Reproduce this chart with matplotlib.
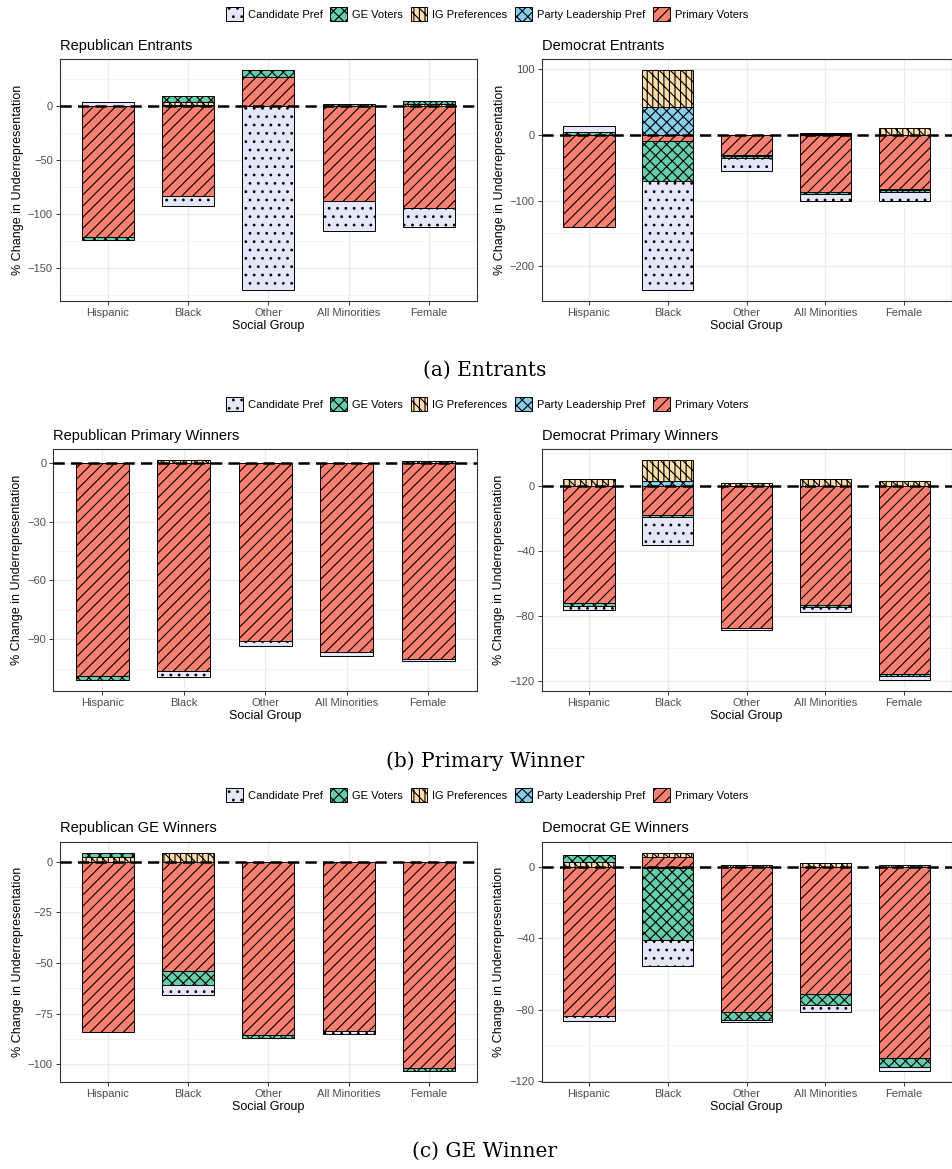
import numpy as np
import matplotlib
matplotlib.use('Agg')
import matplotlib.pyplot as plt
from matplotlib.patches import Patch
from matplotlib.ticker import MultipleLocator

plt.rcParams['font.family'] = ['Liberation Sans', 'DejaVu Sans']
plt.rcParams['hatch.linewidth'] = 0.8

groups = ['Hispanic', 'Black', 'Other', 'All Minorities', 'Female']
sources = ['Candidate Pref', 'GE Voters', 'IG Preferences',
           'Party Leadership Pref', 'Primary Voters']
fills = ['#E6E6FA', '#66CDAA', '#FFDEAD', '#87CEEB', '#FA8072']
hatches = ['..', 'xxx', '|||\\\\\\', 'xxx', '///']

# rows follow `sources`, columns follow `groups` (% change)
rep_entrants = [
    [4, -10, -170, -28, -18],
    [-2.3, 5, 6, 1.5, 3],
    [0, 3, 0, 0, 2],
    [0, 1, 0, 0, 0],
    [-121.5, -83, 27, -88, -94],
]
dem_entrants = [
    [10, -165, -20, -11, -14],
    [4, -62, -3.5, -2.5, -3],
    [0, 55.5, 0, 1.5, 10],
    [0, 43, -1, 1.5, -2],
    [-141, -9, -30.5, -87, -82],
]
rep_primary = [
    [0, -3.2, -2.6, -2, -1.2],
    [-1.7, 0, 0, 0, 0],
    [0, 1.4, 0, 0, 0.85],
    [0, 0, 0, 0, 0],
    [-109, -106, -91, -96.5, -100],
]
dem_primary = [
    [-2.3, -17.2, -1.2, -3.5, -2.1],
    [-1.6, -1.5, -0.5, -1, -1.2],
    [3.9, 12.5, 1.6, 4.3, 3.1],
    [0, 3.1, 0, 0, 0],
    [-72.3, -18, -87.2, -73.3, -116],
]
rep_ge = [
    [0, -4.9, 0, -1.6, 0],
    [2.4, -6.9, -1.2, 0, -1.2],
    [2, 4.2, 0, 0, 0],
    [0, 0, 0, 0, 0],
    [-84, -53.8, -85.6, -83.4, -102],
]
dem_ge = [
    [-3.2, -14.7, -1.3, -3.5, -2.4],
    [3.5, -39.8, -4.5, -6.5, -4.8],
    [3, 2.6, 1.3, 2.2, 1.3],
    [0, -0.9, 0, 0, 0],
    [-83.3, 5.4, -81, -71, -107],
]

W, H = 952, 1169
fig = plt.figure(figsize=(W / 100, H / 100), dpi=100)


def px_axes(left, top, right, bottom):
    return fig.add_axes([left / W, 1 - bottom / H, (right - left) / W, (bottom - top) / H])


def draw_panel(ax, title, values, step):
    values = np.array(values, dtype=float)
    x = np.arange(len(groups))
    pos = np.zeros(len(groups))
    neg = np.zeros(len(groups))
    # stack outward from zero: Primary Voters first, Candidate Pref last
    for k in reversed(range(len(sources))):
        v = values[k]
        base = np.where(v >= 0, pos, neg)
        keep = v != 0
        if keep.any():
            ax.bar(x[keep], v[keep], bottom=base[keep], width=0.65,
                   color=fills[k], edgecolor='black', hatch=hatches[k],
                   linewidth=0.7, zorder=2)
        pos += np.clip(v, 0, None)
        neg += np.clip(v, None, 0)
    ax.axhline(0, color='black', lw=1.8, dashes=(4.5, 2.5), zorder=3)

    lo, hi = neg.min(), pos.max()
    pad = (hi - lo) * 0.05
    ax.set_ylim(lo - pad, hi + pad)
    ax.set_xlim(-0.6, len(groups) - 0.4)
    ax.yaxis.set_major_locator(MultipleLocator(step))
    ax.yaxis.set_minor_locator(MultipleLocator(step / 2))
    ax.set_xticks(x)
    ax.set_xticklabels(groups)
    ax.grid(which='major', color='#EBEBEB', lw=1.0, zorder=0)
    ax.grid(which='minor', axis='y', color='#F2F2F2', lw=0.6, zorder=0)
    ax.set_axisbelow(True)
    ax.tick_params(which='major', length=3, width=0.7, color='#333333',
                   labelsize=8, labelcolor='#4D4D4D', pad=2)
    ax.tick_params(which='minor', length=0)
    for sp in ax.spines.values():
        sp.set_color('#333333')
        sp.set_linewidth(0.8)
    ax.set_title(title, loc='left', fontsize=10.5, pad=7)
    ax.set_xlabel('Social Group', fontsize=9, labelpad=2)
    ax.set_ylabel('% Change in Underrepresentation', fontsize=9, labelpad=3)


rows = [
    (59.3, 300.7, 59.7, 'Republican Entrants', rep_entrants, 50,
     'Democrat Entrants', dem_entrants, 100, 14, 370, '(a) Entrants'),
    (449.3, 690.7, 53.3, 'Republican Primary Winners', rep_primary, 30,
     'Democrat Primary Winners', dem_primary, 40, 404, 761, '(b) Primary Winner'),
    (841.7, 1081.7, 59.7, 'Republican GE Winners', rep_ge, 25,
     'Democrat GE Winners', dem_ge, 40, 795, 1151, '(c) GE Winner'),
]

handles = [Patch(facecolor=f, edgecolor='black', hatch=h, linewidth=0.7)
           for f, h in zip(fills, hatches)]

for (top, bottom, left, rt, rvals, rstep, dt, dvals, dstep,
     leg_y, cap_y, caption) in rows:
    ax_r = px_axes(left, top, 477, bottom)
    draw_panel(ax_r, rt, rvals, rstep)
    ax_d = px_axes(541.7, top, 951.5, bottom)
    draw_panel(ax_d, dt, dvals, dstep)
    fig.legend(handles, sources, loc='center', bbox_to_anchor=(487 / W, 1 - leg_y / H),
               ncol=5, frameon=False, fontsize=8, handlelength=1.5,
               handleheight=1.5, columnspacing=0.7, handletextpad=0.45)
    fig.text(485 / W, 1 - cap_y / H, caption, ha='center', va='center',
             family='DejaVu Serif', fontsize=14.5)

fig.savefig('out.png', dpi=100)
